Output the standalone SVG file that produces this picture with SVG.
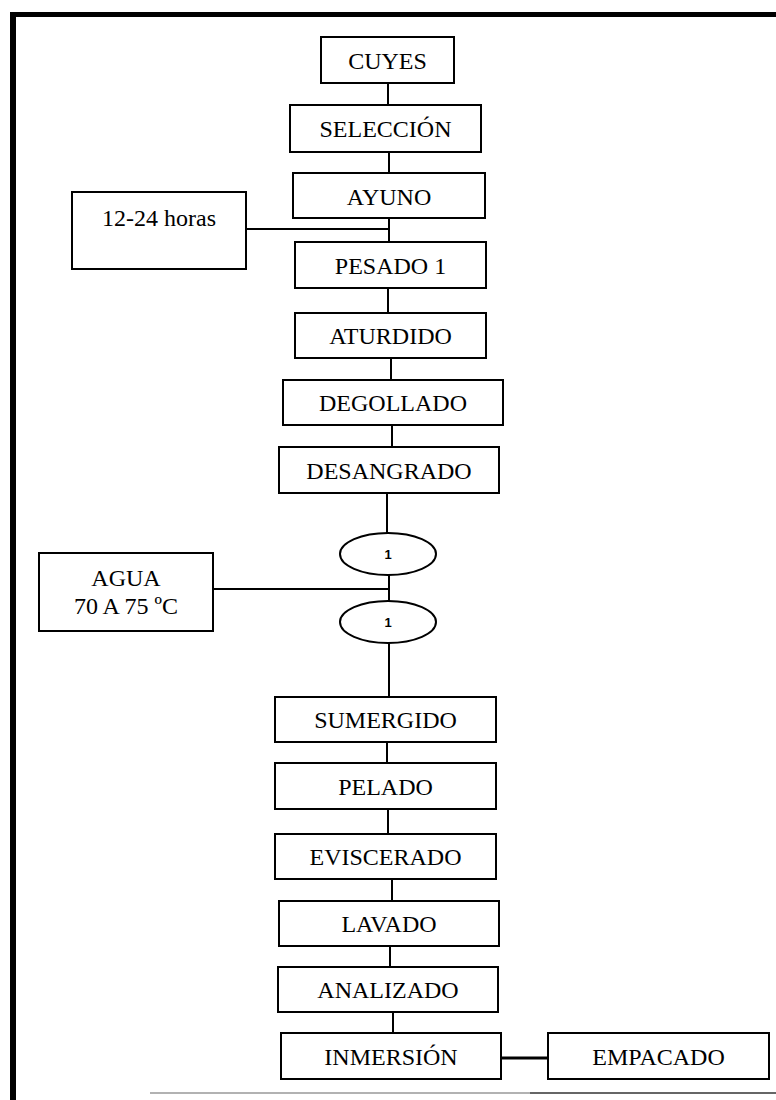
<svg xmlns="http://www.w3.org/2000/svg" width="776" height="1100" viewBox="0 0 776 1100">
<style>
.box{fill:#fff;stroke:#000;stroke-width:2}
.lbl{font-family:"Liberation Serif","Times New Roman",serif;font-size:24px;fill:#000;text-anchor:middle}
.num{font-family:"Liberation Sans",Arial,sans-serif;font-size:13px;font-weight:bold;fill:#000;text-anchor:middle}
.con line{stroke:#000;stroke-width:2}
</style>
<rect width="776" height="1100" fill="#fff"/>
<g id="frame">
<rect x="10" y="12" width="766" height="5" fill="#000"/>
<rect x="10" y="12" width="6" height="1088" fill="#000"/>
<line x1="150" y1="1093" x2="530" y2="1093" stroke="#999" stroke-width="1.5"/>
<line x1="530" y1="1093" x2="776" y2="1093" stroke="#333" stroke-width="1.5"/>
</g>
<g id="connectors" class="con">
<line x1="388" y1="83" x2="388" y2="105"/>
<line x1="389" y1="152" x2="389" y2="173"/>
<line x1="389" y1="218" x2="389" y2="242"/>
<line x1="246" y1="229" x2="390" y2="229"/>
<line x1="388" y1="288" x2="388" y2="313"/>
<line x1="391" y1="358" x2="391" y2="380"/>
<line x1="392" y1="425" x2="392" y2="447"/>
<line x1="387" y1="493" x2="387" y2="533"/>
<line x1="389" y1="575" x2="389" y2="601"/>
<line x1="213" y1="589" x2="390" y2="589"/>
<line x1="389" y1="643" x2="389" y2="697"/>
<line x1="387" y1="742" x2="387" y2="763"/>
<line x1="388" y1="809" x2="388" y2="834"/>
<line x1="392" y1="879" x2="392" y2="901"/>
<line x1="390" y1="946" x2="390" y2="967"/>
<line x1="393" y1="1012" x2="393" y2="1033"/>
<line x1="501" y1="1058" x2="548" y2="1058" style="stroke-width:3"/>
</g>
<g id="cuyes"><rect class="box" x="321" y="37" width="133" height="46"/><text class="lbl" x="387.5" y="69">CUYES</text></g>
<g id="seleccion"><rect class="box" x="290" y="105" width="191" height="47"/><text class="lbl" x="385.5" y="137">SELECCIÓN</text></g>
<g id="ayuno"><rect class="box" x="293" y="173" width="192" height="45"/><text class="lbl" x="389" y="205">AYUNO</text></g>
<g id="horas"><rect class="box" x="72" y="192" width="174" height="77"/><text class="lbl" x="159" y="226">12-24 horas</text></g>
<g id="pesado1"><rect class="box" x="295" y="242" width="191" height="46"/><text class="lbl" x="390.5" y="274">PESADO 1</text></g>
<g id="aturdido"><rect class="box" x="295" y="313" width="191" height="45"/><text class="lbl" x="390.5" y="344">ATURDIDO</text></g>
<g id="degollado"><rect class="box" x="283" y="380" width="220" height="45"/><text class="lbl" x="393" y="411">DEGOLLADO</text></g>
<g id="desangrado"><rect class="box" x="279" y="447" width="220" height="46"/><text class="lbl" x="389" y="479">DESANGRADO</text></g>
<g id="conector1a"><ellipse class="box" cx="388" cy="554" rx="48" ry="21"/><text class="num" x="388" y="559">1</text></g>
<g id="agua"><rect class="box" x="39" y="553" width="174" height="78"/><text class="lbl" x="126" y="586">AGUA</text><text class="lbl" x="126" y="614">70 A 75 ºC</text></g>
<g id="conector1b"><ellipse class="box" cx="388" cy="622" rx="48" ry="21"/><text class="num" x="388" y="627">1</text></g>
<g id="sumergido"><rect class="box" x="275" y="697" width="221" height="45"/><text class="lbl" x="385.5" y="728">SUMERGIDO</text></g>
<g id="pelado"><rect class="box" x="275" y="763" width="221" height="46"/><text class="lbl" x="385.5" y="795">PELADO</text></g>
<g id="eviscerado"><rect class="box" x="275" y="834" width="221" height="45"/><text class="lbl" x="385.5" y="865">EVISCERADO</text></g>
<g id="lavado"><rect class="box" x="279" y="901" width="220" height="45"/><text class="lbl" x="389" y="932">LAVADO</text></g>
<g id="analizado"><rect class="box" x="278" y="967" width="220" height="45"/><text class="lbl" x="388" y="998">ANALIZADO</text></g>
<g id="inmersion"><rect class="box" x="281" y="1033" width="220" height="46"/><text class="lbl" x="391" y="1065">INMERSIÓN</text></g>
<g id="empacado"><rect class="box" x="548" y="1033" width="221" height="46"/><text class="lbl" x="658.5" y="1065">EMPACADO</text></g>
</svg>
